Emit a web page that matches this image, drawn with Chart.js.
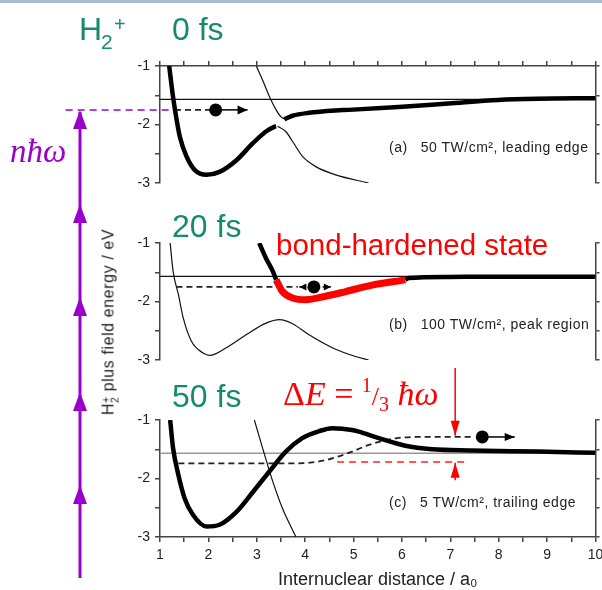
<!DOCTYPE html>
<html>
<head>
<meta charset="utf-8">
<script src="https://cdn.jsdelivr.net/npm/chart.js@4.4.1/dist/chart.umd.min.js"></script>
<style>
body{margin:0;width:602px;height:590px;overflow:hidden;position:relative;background:#fff;font-family:"Liberation Sans",Arial,sans-serif}
canvas{position:absolute;left:0}
.t{position:absolute;line-height:1;white-space:pre}
.green{color:#148c6c;font-size:32px}
.lab{font-size:14px;color:#222;letter-spacing:0.5px}
.serif{font-family:"Liberation Serif","Times New Roman",serif}
#topbar{position:absolute;left:0;top:0;width:602px;height:3px;background:#a9bcd6}
</style>
</head>
<body>
<div id="topbar"></div>
<svg id="ladder" width="602" height="590" style="position:absolute;left:0;top:0"></svg>
<canvas id="pa" width="602" height="150" style="top:40px"></canvas>
<canvas id="pb" width="602" height="140" style="top:230px"></canvas>
<canvas id="pc" width="602" height="240" style="top:360px"></canvas>

<div class="t green" style="left:79px;top:13px">H</div>
<div class="t green" style="left:101px;top:31px;font-size:21px">2</div>
<div class="t green" style="left:114px;top:14px;font-size:20px">+</div>
<div class="t green" style="left:172px;top:13px">0 fs</div>
<div class="t green" style="left:172px;top:210px">20 fs</div>
<div class="t green" style="left:172px;top:380px">50 fs</div>
<div class="t" style="left:276px;top:230px;font-size:29.5px;color:#ff0000">bond-hardened state</div>
<div class="t lab" style="left:389px;top:140px">(a)   50 TW/cm², leading edge</div>
<div class="t lab" style="left:389px;top:317px">(b)   100 TW/cm², peak region</div>
<div class="t lab" style="left:389px;top:495px">(c)   5 TW/cm², trailing edge</div>
<div class="t serif" style="left:10px;top:135px;font-size:33px;color:#9900cc;font-style:italic">nħω</div>
<div class="t serif" style="left:283px;top:377px;font-size:34px;color:#ff0000">Δ<i>E</i> = <span style="font-size:20px;position:relative;top:-13px">1</span><span style="font-size:26px">/</span><span style="font-size:20px;position:relative;top:6px">3</span> <i>ħω</i></div>
<div class="t" style="left:110px;top:322px;font-size:16px;letter-spacing:0.6px;color:#222;transform:translate(-50%,-50%) rotate(-90deg)">H<span style="display:inline-block;vertical-align:-5px;font-size:10px;line-height:9px;text-align:center">+<br>2</span> plus field energy / eV</div>

<script>
// potential curves: r in a0, energy in eV

// (a) 0 fs, leading edge
const aWellR = [1.19, 1.26, 1.31, 1.41, 1.55, 1.72, 1.96, 2.23, 2.58, 2.92, 3.19, 3.36, 3.40];
const aWellE = [-1.0, -1.47, -1.75, -2.21, -2.55, -2.78, -2.86, -2.81, -2.61, -2.32, -2.12, -2.04, -2.03];
const aUpperR = [3.57, 3.74, 4.08, 4.63, 4.9, 5.93, 6.96, 7.99, 8.8, 10];
const aUpperE = [-1.91, -1.85, -1.80, -1.76, -1.75, -1.70, -1.64, -1.58, -1.56, -1.55];
const aRepTopR = [2.99, 3.12, 3.26, 3.40, 3.50, 3.59];
const aRepTopE = [-1.0, -1.24, -1.52, -1.75, -1.87, -1.91];
const aRepLowR = [3.43, 3.60, 3.74, 3.95, 4.22, 4.63, 5.31];
const aRepLowE = [-2.03, -2.12, -2.29, -2.55, -2.72, -2.86, -3.0];

// (b) 20 fs, peak region
const bThinR = [1.21, 1.27, 1.38, 1.48, 1.65, 1.89, 2.03, 2.37, 2.78, 3.19, 3.47, 3.74, 4.08, 4.56, 5.04, 5.31];
const bThinE = [-1.0, -1.48, -1.88, -2.28, -2.68, -2.88, -2.92, -2.79, -2.57, -2.37, -2.31, -2.38, -2.57, -2.79, -2.94, -3.0];
const bWallR = [3.05, 3.19, 3.33, 3.40];
const bWallE = [-1.0, -1.26, -1.48, -1.63];
const bHardR = [3.40, 3.53, 3.74, 4.01, 4.42, 4.84, 5.38, 6.07];
const bHardE = [-1.63, -1.83, -1.94, -1.97, -1.91, -1.83, -1.72, -1.63];
const bTailR = [6.07, 6.14, 6.96, 8, 10];
const bTailE = [-1.63, -1.60, -1.58, -1.575, -1.575];

// (c) 50 fs, trailing edge
const cWellR = [1.21, 1.27, 1.38, 1.51, 1.68, 1.96, 2.23, 2.58, 2.92, 3.26, 3.60, 3.94, 4.29, 4.56, 4.97, 5.11, 5.52, 6.07, 6.62, 7.44, 8.81, 10];
const cWellE = [-1.0, -1.48, -1.94, -2.34, -2.62, -2.82, -2.79, -2.57, -2.23, -1.88, -1.54, -1.31, -1.19, -1.14, -1.17, -1.20, -1.31, -1.44, -1.50, -1.52, -1.54, -1.56];
const cRepR = [2.95, 3.12, 3.33, 3.53, 3.81];
const cRepE = [-1.0, -1.48, -2.05, -2.51, -3.0];
const cPathR = [1.38, 3.8, 4.1, 4.4, 4.7, 5.0, 5.3, 5.6, 5.9, 6.3, 7.5];
const cPathE = [-1.74, -1.74, -1.73, -1.69, -1.62, -1.53, -1.43, -1.36, -1.31, -1.29, -1.29];

const flatE = -1.57;     // one-photon dressed asymptote
const launchE = -1.75;   // wavepacket energy
const gainE = -1.29;     // energy after the pulse
const dressE = -1.72;    // red reference level
const rRange = [1, 10];
const eRange = [-3, -1];

const pts = (rs, es) => rs.map((r, i) => ({x: r, y: es[i]}));

// arrowheads at the last point of a dataset
const arrowHeads = {
  id: 'arrowHeads',
  afterDatasetsDraw(chart) {
    const ctx = chart.ctx;
    chart.data.datasets.forEach((ds, i) => {
      if (!ds.arrow) return;
      const p = chart.getDatasetMeta(i).data;
      const a = p[p.length - 2], b = p[p.length - 1];
      const ang = Math.atan2(b.y - a.y, b.x - a.x);
      ctx.save();
      ctx.translate(b.x, b.y);
      ctx.rotate(ang);
      ctx.beginPath();
      ctx.moveTo(0, 0);
      ctx.lineTo(-ds.arrow[0], ds.arrow[1] / 2);
      ctx.lineTo(-ds.arrow[0], -ds.arrow[1] / 2);
      ctx.closePath();
      ctx.fillStyle = ds.borderColor;
      ctx.fill();
      ctx.restore();
    });
  }
};

const thick = (d) => ({data: d, borderColor: '#000', borderWidth: 4.5, cubicInterpolationMode: 'monotone'});
const thin = (d, c) => ({data: d, borderColor: c || '#111', borderWidth: 1.2, cubicInterpolationMode: 'monotone'});
const dashed = (d, c, w) => ({data: d, borderColor: c || '#222', borderWidth: w || 1.8, borderDash: [6, 4], cubicInterpolationMode: 'monotone'});
const dot = (r, e) => ({data: pts([r], [e]), showLine: false, pointRadius: 6.5, pointBackgroundColor: '#000', pointBorderWidth: 0, borderColor: '#000'});
const arrow = (rs, es, c, head) => ({data: pts(rs, es), borderColor: c, borderWidth: 1.5, arrow: head, clip: false});

const axisLine = {color: '#444', width: 1.5};
function panel(id, datasets, o) {
  return new Chart(document.getElementById(id), {
    type: 'line',
    data: {datasets},
    options: {
      animation: false, responsive: false, devicePixelRatio: 1, events: [],
      layout: {padding: o.pad},
      plugins: {legend: {display: false}, tooltip: {enabled: false}},
      elements: {point: {radius: 0}},
      scales: {
        x: {
          type: 'linear', min: rRange[0], max: rRange[1], position: o.xPos, display: o.xShow,
          ticks: {stepSize: 0.5, autoSkip: false, maxRotation: 0, display: !!o.xTitle, padding: 5,
                  font: {size: 14}, color: '#222', callback: v => Number.isInteger(v) ? String(v) : ''},
          grid: {drawOnChartArea: false, tickLength: 5, color: '#444', lineWidth: 1.5},
          border: axisLine,
          title: {display: !!o.xTitle, text: o.xTitle, font: {size: 18}, color: '#222', padding: 0},
          afterFit: s => { s.height = o.xH; s.paddingLeft = 0; s.paddingRight = 0; }
        },
        y: {
          min: eRange[0], max: eRange[1], position: 'left',
          ticks: {stepSize: 0.5, padding: 5, font: {size: 14}, color: '#222',
                  callback: v => Number.isInteger(v) ? String(v) : ''},
          grid: {drawOnChartArea: false, tickLength: 5, color: '#444', lineWidth: 1.5},
          border: axisLine,
          afterFit: s => { s.width = 40; s.paddingTop = 0; s.paddingBottom = 0; }
        },
        y2: {
          min: eRange[0], max: eRange[1], position: 'right',
          ticks: {stepSize: 0.5, display: false},
          grid: {drawOnChartArea: false, tickLength: 4, color: '#444', lineWidth: 1.5},
          border: axisLine,
          afterFit: s => { s.width = 4; s.paddingTop = 0; s.paddingBottom = 0; }
        }
      }
    },
    plugins: [arrowHeads]
  });
}

panel('pa', [
  thick(pts(aWellR, aWellE)),
  thick(pts(aUpperR, aUpperE)),
  thin(pts(aRepTopR, aRepTopE)),
  thin(pts(aRepLowR, aRepLowE)),
  dot(2.15, launchE),
  arrow([2.28, 2.81], [launchE, launchE], '#000', [10, 9]),
  dashed(pts([1.31, 2.03], [launchE, launchE])),
  Object.assign(dashed(pts([-0.95, 1.31], [launchE, launchE]), '#9900cc', 1.5), {clip: false, borderDash: [7, 5]}),
  thin(pts(rRange, [flatE, flatE]))
], {pad: {left: 120, right: 0, top: 21, bottom: 7}, xPos: 'top', xShow: true, xH: 5});

panel('pb', [
  Object.assign(thick(pts(bHardR, bHardE)), {borderColor: '#ff0000', borderWidth: 7}),
  thick(pts(bWallR, bWallE)),
  thick(pts(bTailR, bTailE)),
  dot(4.18, launchE),
  arrow([4.02, 3.88], [launchE, launchE], '#000', [7, 7]),
  arrow([4.36, 4.53], [launchE, launchE], '#000', [7, 7]),
  dashed(pts([1.34, 3.85], [launchE, launchE])),
  thin(pts(bThinR, bThinE)),
  thin(pts(rRange, [flatE, flatE]))
], {pad: {left: 120, right: 0, top: 13, bottom: 10}, xPos: 'bottom', xShow: false, xH: 0});

panel('pc', [
  thick(pts(cWellR, cWellE)),
  thin(pts(cRepR, cRepE)),
  dot(7.66, gainE),
  arrow([7.78, 8.33], [gainE, gainE], '#000', [10, 8]),
  dashed(pts(cPathR, cPathE)),
  arrow([7.10, 7.10], [-0.11, gainE + 0.02], '#ff0000', [15, 9]),
  arrow([7.10, 7.10], [-2.03, dressE - 0.01], '#ff0000', [15, 9]),
  Object.assign(dashed(pts([4.66, 7.37], [dressE, dressE]), '#ff2020', 1.5), {borderDash: [7, 5]}),
  Object.assign(thin(pts(rRange, [flatE, flatE]), '#999'), {borderWidth: 1.5})
], {pad: {left: 120, right: 0, top: 60, bottom: 9}, xPos: 'bottom', xShow: true, xH: 54,
    xTitle: 'Internuclear distance / a₀'});

// photon ladder: n quanta pumped up to the launch energy
const photonTips = [110, 204, 297, 392, 485];
const svg = document.getElementById('ladder');
let s = '<line x1="80" y1="112" x2="80" y2="578" stroke="#9900cc" stroke-width="3"/>';
photonTips.forEach(t => {
  s += `<polygon points="80,${t} 73,${t + 19} 87,${t + 19}" fill="#9900cc"/>`;
});
svg.innerHTML = s;
</script>
</body>
</html>
